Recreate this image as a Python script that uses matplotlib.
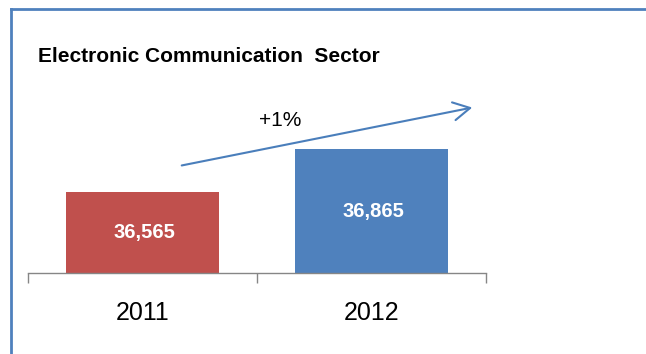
import matplotlib.pyplot as plt
from matplotlib.lines import Line2D
from matplotlib.patches import FancyArrowPatch

years = ['2011', '2012']
employees = [36565, 36865]
bar_colors = ['#C0504D', '#4F81BD']
growth_label = '+1%'
title = 'Electronic Communication  Sector'

W, H = 646, 354
fig = plt.figure(figsize=(W / 100, H / 100), dpi=100)

# frame lines along the top and left edge
fig.add_artist(Line2D([10.5 / W, 1], [1 - 8.5 / H, 1 - 8.5 / H], transform=fig.transFigure,
                      color='#4F81BD', lw=2))
fig.add_artist(Line2D([11 / W, 11 / W], [0, 1 - 8.5 / H], transform=fig.transFigure,
                      color='#4F81BD', lw=2))

# axes: x from 28px to 486px, baseline at 273px
ax_left, ax_right, ax_bottom, ax_top = 28, 486, 273, 9
ax = fig.add_axes([ax_left / W, 1 - ax_bottom / H, (ax_right - ax_left) / W, (ax_bottom - ax_top) / H])

ymin = 36000
px_per_unit = (ax_bottom - 149.3) / (employees[1] - ymin)
ax.set_ylim(ymin, ymin + (ax_bottom - ax_top) / px_per_unit)
ax.set_xlim(-0.5, 1.5)

x = range(len(years))
bars = ax.bar(x, employees, width=0.665, color=bar_colors, bottom=0)
for xi, v in zip(x, employees):
    ax.text(xi + 0.01, ymin + (v - ymin) / 2, f'{v:,}', ha='center', va='center',
            color='white', fontsize=14.5, fontweight='bold', family='Liberation Sans')

for s in ['top', 'right', 'left']:
    ax.spines[s].set_visible(False)
ax.spines['bottom'].set_color('#868686')
ax.spines['bottom'].set_linewidth(1)
ax.set_yticks([])
ax.set_xticks([-0.5, 0.5, 1.5])
ax.set_xticklabels([])
ax.tick_params(axis='x', which='major', length=7, color='#868686', width=1)
ax.set_xticks(list(x), minor=True)
ax.set_xticklabels(years, minor=True, fontsize=18, family='Liberation Sans')
ax.tick_params(axis='x', which='minor', length=0, pad=20)

fig.text(38 / W, 1 - 56 / H, title, ha='left', va='center', fontsize=15,
         fontweight='bold', family='Liberation Sans')

arrow = FancyArrowPatch((179 / W, 1 - 166 / H), (475 / W, 1 - 107 / H), transform=fig.transFigure,
                        arrowstyle='->,head_length=12,head_width=6.5', mutation_scale=1,
                        color='#4A7EBB', lw=1.5)
fig.add_artist(arrow)
fig.text(280 / W, 1 - 120 / H, growth_label, ha='center', va='center', fontsize=15,
         family='Liberation Sans')

fig.savefig('out.png', dpi=100)
